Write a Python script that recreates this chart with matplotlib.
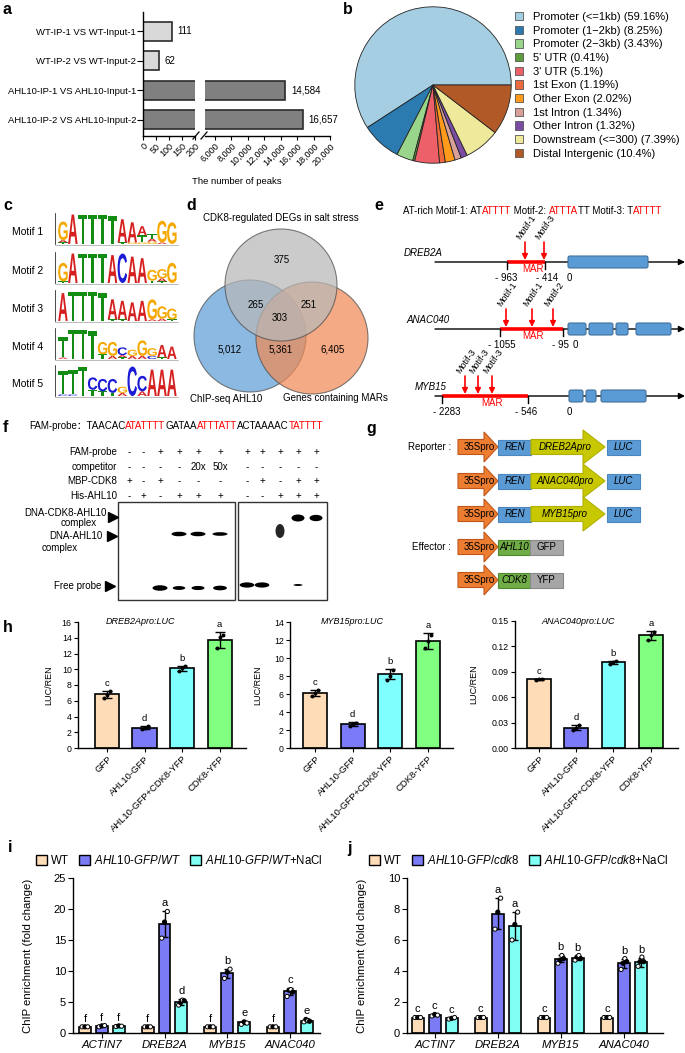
import matplotlib
matplotlib.use('Agg')
import matplotlib.pyplot as plt
import numpy as np
from matplotlib.patches import Rectangle, Circle, Polygon, FancyBboxPatch, Ellipse, PathPatch, Patch
from matplotlib.textpath import TextPath
from matplotlib.font_manager import FontProperties
from matplotlib.transforms import Affine2D
from matplotlib.offsetbox import TextArea, HPacker, AnnotationBbox

plt.rcParams['font.family'] = ['Liberation Sans', 'DejaVu Sans']
plt.rcParams['mathtext.fontset'] = 'custom'
plt.rcParams['mathtext.rm'] = 'Liberation Sans'
plt.rcParams['mathtext.it'] = 'Liberation Sans:italic'
plt.rcParams['axes.linewidth'] = 1.0

# ---------------- data ----------------
# a: peak numbers
peak_labels = ['WT-IP-1 VS WT-Input-1', 'WT-IP-2 VS WT-Input-2',
               'AHL10-IP-1 VS AHL10-Input-1', 'AHL10-IP-2 VS AHL10-Input-2']
peak_counts = [111, 62, 14584, 16657]
peak_colors = ['#d9d9d9', '#d9d9d9', '#808080', '#808080']

# b: peak annotation
anno_labels = ['Promoter (<=1kb)', 'Promoter (1\u22122kb)', 'Promoter (2\u22123kb)', "5' UTR", "3' UTR",
               '1st Exon', 'Other Exon', '1st Intron', 'Other Intron', 'Downstream (<=300)',
               'Distal Intergenic']
anno_pct = [59.16, 8.25, 3.43, 0.41, 5.1, 1.19, 2.02, 1.34, 1.32, 7.39, 10.4]
anno_colors = ['#a6cee3', '#2b7bb0', '#99d58a', '#5c9e3b', '#ee6069', '#ee6a3c',
               '#ff9a1a', '#d8a098', '#7b4ca3', '#efea9b', '#b15a28']

# c: motif logos (bits per letter, per column)
motif_names = ['Motif 1', 'Motif 2', 'Motif 3', 'Motif 4', 'Motif 5']
motif1 = [{'G': 1.2, 'A': 0.15, 'T': 0.1}, {'A': 1.9}, {'T': 1.9}, {'T': 1.9}, {'T': 1.9},
          {'T': 1.8}, {'A': 1.5, 'T': 0.1}, {'A': 1.3, 'G': 0.1}, {'A': 0.6, 'T': 0.45, 'G': 0.1},
          {'T': 0.3, 'A': 0.2, 'G': 0.15}, {'G': 1.4, 'A': 0.1}, {'G': 1.4}]
motif2 = [{'G': 1.2, 'T': 0.1}, {'A': 1.9}, {'T': 1.9}, {'T': 1.9}, {'T': 1.9}, {'A': 1.8},
          {'C': 1.9}, {'A': 1.7}, {'A': 1.6}, {'G': 0.7, 'T': 0.15}, {'G': 0.6, 'A': 0.2, 'T': 0.1},
          {'G': 1.3}]
motif3 = [{'A': 1.8}, {'T': 1.9}, {'T': 1.9}, {'T': 1.9}, {'T': 1.8}, {'A': 1.3, 'T': 0.1},
          {'A': 1.2, 'T': 0.1}, {'A': 1.2}, {'A': 1.3}, {'G': 1.3, 'A': 0.1}, {'G': 0.8, 'A': 0.15},
          {'G': 0.7, 'T': 0.1}]
motif4 = [{'T': 1.3, 'A': 0.1}, {'T': 1.9}, {'T': 1.9}, {'T': 1.8}, {'G': 0.8, 'T': 0.3},
          {'G': 0.9, 'A': 0.2}, {'C': 0.5, 'A': 0.15, 'T': 0.1}, {'G': 0.4, 'A': 0.2},
          {'G': 1.0, 'A': 0.2}, {'G': 0.5, 'C': 0.2}, {'A': 0.8, 'T': 0.1}, {'A': 0.8}]
motif5 = [{'T': 1.5, 'C': 0.1}, {'T': 1.6, 'C': 0.1}, {'T': 1.9}, {'C': 0.8, 'T': 0.4},
          {'C': 0.8, 'T': 0.3}, {'C': 0.9, 'T': 0.2}, {'G': 0.4, 'A': 0.2}, {'C': 1.9},
          {'C': 1.0, 'A': 0.3}, {'A': 1.7}, {'A': 1.7}, {'A': 1.7}]
motifs = [motif1, motif2, motif3, motif4, motif5]
base_colors = {'A': '#d62020', 'T': '#128c12', 'C': '#1b1bd6', 'G': '#f5a800'}

# d: venn
venn_titles = ['CDK8-regulated DEGs in salt stress', 'ChIP-seq AHL10', 'Genes containing MARs']
# order: gray only, blue only, orange only, gray&blue, gray&orange, blue&orange, all three
venn_counts = [375, 5012, 6405, 265, 251, 5361, 303]

# e: promoters
gene_names = ['DREB2A', 'ANAC040', 'MYB15']
mar_bounds = [('- 963', '- 414'), ('- 1055', '- 95'), ('- 2283', '- 546')]
motif_hits = [['Motif-1', 'Motif-3'], ['Motif-1', 'Motif-1', 'Motif-2'],
              ['Motif-3', 'Motif-3', 'Motif-3']]

# f: EMSA
gel_rows = ['FAM-probe', 'competitor', 'MBP-CDK8', 'His-AHL10']
gel_fam = ['-', '-', '+', '+', '+', '+', '+', '+', '+', '+', '+']
gel_comp = ['-', '-', '-', '-', '20x', '50x', '-', '-', '-', '-', '-']
gel_mbp = ['+', '-', '+', '-', '-', '-', '-', '+', '-', '+', '+']
gel_his = ['-', '+', '-', '+', '+', '+', '-', '-', '+', '+', '+']
free_probe_int = [0, 0, 1.0, 0.7, 0.75, 0.85, 0.95, 0.95, 0, 0.35, 0]
ahl_complex_int = [0, 0, 0, 1.0, 1.0, 0.8, 0, 0, 0.9, 0, 0]
cdk_complex_int = [0, 0, 0, 0, 0, 0, 0, 0, 0, 1.0, 0.9]

# g: constructs
reporter_pro = ['DREB2Apro', 'ANAC040pro', 'MYB15pro']
effectors = [('AHL10', 'GFP'), ('CDK8', 'YFP')]

# h: LUC/REN
h_conds = ['GFP', 'AHL10-GFP', 'AHL10-GFP+CDK8-YFP', 'CDK8-YFP']
h_colors = ['#ffdcb8', '#7b7bf7', '#80ffff', '#80ff80']
h_letters = ['c', 'd', 'b', 'a']
dreb_mean = [6.8, 2.6, 10.1, 13.7]
dreb_err = [0.5, 0.25, 0.35, 1.0]
dreb_pts = [[6.4, 6.7, 7.2], [2.4, 2.6, 2.8], [9.8, 10.1, 10.4], [12.7, 14.1, 14.3]]
myb_mean = [6.1, 2.7, 8.2, 11.9]
myb_err = [0.35, 0.2, 0.55, 0.9]
myb_pts = [[5.8, 6.1, 6.4], [2.5, 2.7, 2.8], [7.6, 8.0, 8.7], [11.1, 11.9, 12.6]]
anac_mean = [0.081, 0.024, 0.101, 0.133]
anac_err = [0.0008, 0.003, 0.002, 0.005]
anac_pts = [[0.080, 0.081, 0.081], [0.021, 0.024, 0.027], [0.099, 0.101, 0.103],
            [0.128, 0.134, 0.137]]

# i / j: ChIP enrichment
chip_genes = ['ACTIN7', 'DREB2A', 'MYB15', 'ANAC040']
chip_colors = ['#ffdcb8', '#7b7bf5', '#80fff5']
i_mean = [[1.0, 1.0, 1.0, 1.0], [1.1, 17.6, 9.6, 6.7], [1.1, 5.0, 1.7, 2.0]]
i_err = [[0.05, 0.05, 0.05, 0.05], [0.1, 2.1, 0.8, 0.6], [0.1, 0.45, 0.3, 0.3]]
i_pts = [[[1, 1, 1], [1, 1, 1], [1, 1, 1], [1, 1, 1]],
         [[1.0, 1.15, 1.2], [15.3, 17.9, 19.6], [8.8, 9.8, 10.3], [5.9, 6.9, 7.0, 6.6]],
         [[1.05, 1.15, 1.1], [4.5, 4.9, 5.3, 5.2], [1.4, 1.8, 1.6], [1.8, 2.2, 2.0, 1.9]]]
i_letters = [['f', 'f', 'f', 'f'], ['f', 'a', 'b', 'c'], ['f', 'd', 'e', 'e']]
j_mean = [[1.0, 1.0, 1.0, 1.0], [1.15, 7.7, 4.8, 4.5], [0.95, 6.9, 4.85, 4.55]]
j_err = [[0.05, 0.05, 0.05, 0.05], [0.07, 1.0, 0.25, 0.3], [0.05, 0.9, 0.15, 0.3]]
j_pts = [[[1, 1, 1], [1, 1, 1], [1, 1, 1], [1, 1, 1]],
         [[1.1, 1.2, 1.15], [6.7, 7.8, 8.7], [4.5, 4.7, 5.0, 4.8], [4.1, 4.5, 4.8, 4.6]],
         [[0.9, 0.95, 1.0], [6.0, 7.0, 7.8], [4.7, 4.9, 5.0, 4.8], [4.3, 4.6, 4.9, 4.6]]]
j_letters = [['c', 'c', 'c', 'c'], ['c', 'a', 'b', 'b'], ['c', 'a', 'b', 'b']]

# ---------------- figure ----------------
W, H = 685, 1053
fig = plt.figure(figsize=(W / 100, H / 100), dpi=100)

# pixel canvas for schematic drawings and free text
cv = fig.add_axes([0, 0, 1, 1])
cv.set_xlim(0, W)
cv.set_ylim(H, 0)
cv.axis('off')


def px_axes(x0, y0, x1, y1):
    return fig.add_axes([x0 / W, 1 - y1 / H, (x1 - x0) / W, (y1 - y0) / H])


def rich_text(x, y, parts, fontsize, family=None):
    fam = family or plt.rcParams['font.family']
    areas = [TextArea(s, textprops=dict(color=c, fontsize=fontsize, family=fam)) for s, c in parts]
    box = HPacker(children=areas, align='baseline', pad=0, sep=0)
    ab = AnnotationBbox(box, (x, y), xycoords='data', frameon=False,
                        box_alignment=(0, 0.5), pad=0)
    cv.add_artist(ab)


for lab, (lx, ly) in zip('abcdefghij', [(3, 9), (343, 9), (3, 205), (186, 205), (374, 205),
                                        (3, 427), (366, 428), (3, 628), (8, 848), (347, 848)]):
    cv.text(lx, ly, lab, fontsize=11.5, fontweight='bold', va='center', ha='left')

# ---------------- a ----------------
axL = px_axes(143, 12, 195, 136)
axR = px_axes(205, 12, 330, 136)
ypos = np.arange(len(peak_counts))
for ax in (axL, axR):
    ax.barh(ypos, peak_counts, height=0.64, color=peak_colors, edgecolor='#2b2b2b', linewidth=1.2)
    ax.set_ylim(3.55, -0.65)
    ax.spines[['top', 'right']].set_visible(False)
    ax.tick_params(axis='x', labelsize=6.5, length=3, pad=1)
    ax.set_facecolor('none')
axL.set_xlim(0, 200)
axL.set_xticks([0, 50, 100, 150, 200])
axR.set_xlim(4800, 20000)
axR.set_xticks(range(6000, 20001, 2000))
axR.set_xticklabels([f'{v:,}' for v in range(6000, 20001, 2000)])
axR.spines['left'].set_visible(False)
axR.tick_params(axis='y', left=False, labelleft=False)
axL.set_yticks(ypos)
axL.set_yticklabels(peak_labels, fontsize=6.8)
axL.tick_params(axis='y', length=4, pad=1)
for ax in (axL, axR):
    for t in ax.get_xticklabels():
        t.set_rotation(45)
        t.set_ha('right')
        t.set_va('top')
        t.set_rotation_mode('anchor')
for yi, v in zip(ypos, peak_counts):
    tgt = axL if v <= 200 else axR
    tgt.annotate(f'{v:,}', (v, yi), xytext=(4, 0), textcoords='offset points',
                 va='center', ha='left', fontsize=7, annotation_clip=False)
cv.plot([193, 199], [139, 132], color='black', lw=0.9)
cv.plot([201, 207], [139, 132], color='black', lw=0.9)
cv.text(237, 181, 'The number of peaks', ha='center', va='center', fontsize=6.8)

# ---------------- b ----------------
axb = px_axes(354, 6, 512, 164)
axb.pie(anno_pct, colors=anno_colors, startangle=0, counterclock=True,
        wedgeprops=dict(edgecolor='#222222', linewidth=0.6))
axb.set_xlim(-1.01, 1.01)
axb.set_ylim(-1.01, 1.01)
handles = [Patch(facecolor=c, edgecolor='#555555', linewidth=0.6) for c in anno_colors]
labels = [f'{l} ({p:g}%)' for l, p in zip(anno_labels, anno_pct)]
fig.legend(handles, labels, loc='upper left', bbox_to_anchor=(515 / W, 1 - 12 / H),
           frameon=False, fontsize=8, handlelength=0.75, handleheight=0.75,
           handletextpad=0.9, labelspacing=0.33, borderaxespad=0, borderpad=0)

# ---------------- c ----------------
logo_fp = FontProperties(family='Liberation Sans', weight='bold')
logo_x0, col_w, bit_px = 58, 9.9, 15.5
logo_bottoms = [244, 283, 321, 359, 396]


def draw_letter(ch, x, ybot, w, h, color):
    tp = TextPath((0, 0), ch, size=1, prop=logo_fp)
    bb = tp.get_extents()
    tr = Affine2D().translate(-bb.x0, -bb.y0).scale(w / bb.width, -h / bb.height).translate(x, ybot)
    cv.add_patch(PathPatch(tr.transform_path(tp), facecolor=color, edgecolor='none', lw=0))


for name, cols, bot in zip(motif_names, motifs, logo_bottoms):
    cv.text(43, bot - 12, name, ha='right', va='center', fontsize=7.5)
    cv.plot([55.5, 55.5], [bot - 31, bot], color='black', lw=0.5)
    cv.plot([55.5, 178], [bot + 0.5, bot + 0.5], color='#888888', lw=0.4)
    for ci, col in enumerate(cols):
        y = bot
        for letter, bits in sorted(col.items(), key=lambda kv: kv[1]):
            h = bits * bit_px
            draw_letter(letter, logo_x0 + ci * col_w + 0.2, y, col_w - 0.4, h, base_colors[letter])
            y -= h

# ---------------- d ----------------
venn_circles = [((281, 285), '#b8b8b8'), ((250, 336), '#5f9fd6'), ((312, 338), '#f08a55')]
for (cx, cy), col in [venn_circles[1], venn_circles[2], venn_circles[0]]:
    cv.add_patch(Circle((cx, cy), 56, facecolor=col, alpha=0.72, edgecolor='#4d4d4d', lw=0.8))
venn_pos = [(282, 260), (230, 350), (333, 350), (256, 305), (309, 305), (281, 350), (280, 318)]
for (vx, vy), n in zip(venn_pos, venn_counts):
    cv.text(vx, vy, f'{n:,}', ha='center', va='center', fontsize=7)
cv.text(281, 218, venn_titles[0], ha='center', va='center', fontsize=7)
cv.text(226, 399, venn_titles[1], ha='center', va='center', fontsize=7)
cv.text(335, 398, venn_titles[2], ha='center', va='center', fontsize=7)

# ---------------- e ----------------
rich_text(403, 211, [('AT-rich Motif-1: AT', 'black'), ('ATTTT', 'red'), (' Motif-2: ', 'black'),
                     ('ATTTA', 'red'), ('TT Motif-3: T', 'black'), ('ATTTT', 'red')], 7)
gene_y = [262, 329, 396]
gene_label_x = [423, 428, 431]
mar_x = [(507, 545), (500, 563), (442, 528)]
mar_text_x = [533, 533, 492]
bound_x = [(506, 547, 569), (502, 560, 575), (447, 526, 569)]
exon_x = [[(568, 648)], [(568, 586), (589, 613), (616, 628), (636, 671)],
          [(569, 583), (586, 596), (601, 646)]]
motif_x = [[525, 544], [506, 532, 553], [465, 478, 492]]
for g in range(3):
    y = gene_y[g]
    cv.text(gene_label_x[g], y - 9, gene_names[g], ha='center', va='center', fontsize=7, style='italic')
    cv.annotate('', xy=(685, y), xytext=(435, y),
                arrowprops=dict(arrowstyle='-|>', color='black', lw=1, mutation_scale=9,
                                shrinkA=0, shrinkB=0))
    m0, m1 = mar_x[g]
    cv.plot([m0, m1], [y, y], color='red', lw=2.6, solid_capstyle='butt', zorder=3)
    for mx in (m0, m1):
        cv.plot([mx, mx], [y, y + 7], color='black', lw=1, zorder=3)
    cv.text(mar_text_x[g], y + 7, 'MAR', color='red', ha='center', va='center', fontsize=7)
    for txt, bx in zip(list(mar_bounds[g]) + ['0'], bound_x[g]):
        cv.text(bx, y + 16, txt, ha='center', va='center', fontsize=7)
    for e0, e1 in exon_x[g]:
        cv.add_patch(FancyBboxPatch((e0, y - 6), e1 - e0, 12, boxstyle='round,pad=0,rounding_size=2',
                                    facecolor='#5b9bd5', edgecolor='#41719c', lw=0.8, zorder=4))
    for mx, mname in zip(motif_x[g], motif_hits[g]):
        cv.annotate('', xy=(mx, y - 2), xytext=(mx, y - 20),
                    arrowprops=dict(arrowstyle='-|>', color='red', lw=1.2, mutation_scale=8,
                                    shrinkA=0, shrinkB=0), zorder=5)
        cv.text(mx - 3, y - 21, mname, rotation=55, rotation_mode='anchor', ha='left', va='bottom',
                fontsize=6.5)

# ---------------- f ----------------
rich_text(29, 426, [('FAM-probe\uff1aTAACAC', 'black'), ('ATATTTT', 'red'), ('GATAA', 'black'),
                    ('ATTTATT', 'red'), ('ACTAAAAC', 'black'), ('TATTTT', 'red')], 7,
          family=['Liberation Sans', 'Noto Sans CJK SC'])
lane_x = [129, 143, 160, 179, 198, 220, 247, 262, 280, 298, 316]
row_y = [452, 467, 481, 496]
for rname, ry, vals in zip(gel_rows, row_y, [gel_fam, gel_comp, gel_mbp, gel_his]):
    cv.text(117, ry, rname, ha='right', va='center', fontsize=7)
    for lx, v in zip(lane_x, vals):
        cv.text(lx, ry, v, ha='center', va='center', fontsize=7)
cv.add_patch(Rectangle((118, 502), 117, 98, facecolor='white', edgecolor='#333333', lw=1))
cv.add_patch(Rectangle((238, 502), 89, 98, facecolor='white', edgecolor='#333333', lw=1))
for li, (lx, a) in enumerate(zip(lane_x, free_probe_int)):
    if a > 0:
        fy = 588 if li < 6 else 585
        cv.add_patch(Ellipse((lx, fy), 15 * a ** 0.5, 5.5 * a, facecolor='black', edgecolor='none'))
for li, (lx, a) in enumerate(zip(lane_x, ahl_complex_int)):
    if a > 0:
        if li < 6:
            cv.add_patch(Ellipse((lx, 534), 15, 4.5 * a, facecolor='black', edgecolor='none'))
        else:
            cv.add_patch(Ellipse((lx, 531), 9, 14, facecolor='black', edgecolor='none', alpha=0.85))
for lx, a in zip(lane_x, cdk_complex_int):
    if a > 0:
        cv.add_patch(Ellipse((lx, 518), 13, 7 * a, facecolor='black', edgecolor='none'))
cv.text(107, 513, 'DNA-CDK8-AHL10', ha='right', va='center', fontsize=7)
cv.text(79, 523, 'complex', ha='center', va='center', fontsize=7)
cv.text(103, 536, 'DNA-AHL10', ha='right', va='center', fontsize=7)
cv.text(60, 548, 'complex', ha='center', va='center', fontsize=7)
cv.text(101, 586, 'Free probe', ha='right', va='center', fontsize=7)
cv.plot([113, 112, 110], [517, 536, 586], marker='>', color='black', markersize=7, lw=0)

# ---------------- g ----------------


def block_arrow(x0, x1, yc, bh, hh, hl, fc, ec):
    pts = [(x0, yc - bh / 2), (x1 - hl, yc - bh / 2), (x1 - hl, yc - hh / 2), (x1, yc),
           (x1 - hl, yc + hh / 2), (x1 - hl, yc + bh / 2), (x0, yc + bh / 2)]
    cv.add_patch(Polygon(pts, closed=True, facecolor=fc, edgecolor=ec, lw=0.8))


def box(x0, x1, yc, fc, ec, txt, italic=True):
    cv.add_patch(Rectangle((x0, yc - 7.5), x1 - x0, 15, facecolor=fc, edgecolor=ec, lw=0.8))
    cv.text((x0 + x1) / 2, yc, txt, ha='center', va='center', fontsize=7,
            style='italic' if italic else 'normal')


construct_y = [447, 481, 514, 547, 580]
cv.text(430, construct_y[0], 'Reporter :', ha='center', va='center', fontsize=7)
cv.text(431, construct_y[3], 'Effector :', ha='center', va='center', fontsize=7)
for yc, pro in zip(construct_y[:3], reporter_pro):
    block_arrow(458, 498, yc, 15, 30, 14, '#ed7d31', '#c0561a')
    cv.text(479, yc, '35Spro', ha='center', va='center', fontsize=7)
    box(498, 531, yc, '#5b9bd5', '#4a86c0', 'REN')
    block_arrow(531, 605, yc, 15, 34, 22, '#c8c800', '#b0b000')
    cv.text(565, yc, pro, ha='center', va='center', fontsize=7, style='italic')
    box(607, 640, yc, '#5b9bd5', '#4a86c0', 'LUC')
for yc, (gene, tag) in zip(construct_y[3:], effectors):
    block_arrow(458, 498, yc, 15, 30, 14, '#ed7d31', '#c0561a')
    cv.text(479, yc, '35Spro', ha='center', va='center', fontsize=7)
    box(498, 530, yc, '#70ad47', '#4e8a30', gene)
    box(530, 563, yc, '#a6a6a6', '#8a8a8a', tag, italic=False)

# ---------------- h ----------------


def luc_chart(rect, xlim, title, title_x, ylab_off, means, errs, pts, ymax, ystep, fmt):
    ax = px_axes(*rect)
    x = np.arange(len(means))
    ax.bar(x, means, width=0.64, color=h_colors, edgecolor='black', linewidth=1.2, zorder=2)
    ax.errorbar(x, means, yerr=errs, fmt='none', ecolor='black', elinewidth=1, capsize=3.5,
                capthick=1, zorder=3)
    for xi, p in zip(x, pts):
        offs = np.linspace(-0.08, 0.08, len(p))
        ax.scatter(xi + offs, p, s=8, color='black', zorder=4, linewidths=0)
    for xi, m, e, l in zip(x, means, errs, h_letters):
        ax.annotate(l, (xi, m + e), xytext=(0, 2), textcoords='offset points', ha='center',
                    va='bottom', fontsize=6.8)
    ax.set_xlim(*xlim)
    ax.set_ylim(0, ymax)
    ax.set_yticks(np.arange(0, ymax + ystep / 2, ystep))
    ax.set_yticklabels([fmt.format(v) for v in np.arange(0, ymax + ystep / 2, ystep)])
    ax.set_xticks(x)
    ax.set_xticklabels(h_conds, rotation=45, ha='right', rotation_mode='anchor', fontsize=6.8)
    ax.spines[['top', 'right']].set_visible(False)
    ax.tick_params(axis='y', labelsize=6.3, length=3, pad=1.5)
    ax.tick_params(axis='x', length=3, pad=1.5)
    ax.set_ylabel('LUC/REN', fontsize=6.5)
    w = rect[2] - rect[0]
    ax.yaxis.set_label_coords(-ylab_off / w, 0.5)
    ax.text((title_x - rect[0]) / w, 1.0, title, transform=ax.transAxes, ha='center', va='center',
            fontsize=6.5, style='italic')
    ax.set_facecolor('none')
    return ax


luc_chart((78, 622, 246, 748), (-0.77, 3.7), 'DREB2Apro:LUC', 140, 25,
          dreb_mean, dreb_err, dreb_pts, 16, 2, '{:.0f}')
luc_chart((290, 622, 453, 748), (-0.66, 3.66), 'MYB15pro:LUC', 352, 28,
          myb_mean, myb_err, myb_pts, 14, 2, '{:.0f}')
luc_chart((515, 621, 678, 748), (-0.64, 3.73), 'ANAC040pro:LUC', 578, 37,
          anac_mean, anac_err, anac_pts, 0.15, 0.03, '{:.2f}')

# ---------------- i / j ----------------


def chip_chart(rect, xlim, means, errs, pts, letters, ymax, ystep, leg_labels, leg_x):
    ax = px_axes(*rect)
    g = np.arange(len(chip_genes))
    offs = [-0.27, 0, 0.27]
    for s in range(3):
        xs = g + offs[s]
        ax.bar(xs, means[s], width=0.19, color=chip_colors[s], edgecolor='black', linewidth=1.2,
               zorder=2)
        ax.errorbar(xs, means[s], yerr=errs[s], fmt='none', ecolor='black', elinewidth=1,
                    capsize=2.5, capthick=1, zorder=3)
        for xi, p in zip(xs, pts[s]):
            jit = np.linspace(-0.045, 0.045, len(p))
            fcs = ['white' if k % 2 == 0 else 'black' for k in range(len(p))]
            ax.scatter(xi + jit, p, s=9, facecolors=fcs, edgecolors='black', linewidths=0.7,
                       zorder=4)
        for xi, m, e, l in zip(xs, means[s], errs[s], letters[s]):
            ax.annotate(l, (xi, m + e), xytext=(0, 2), textcoords='offset points', ha='center',
                        va='bottom', fontsize=8)
    ax.set_xlim(*xlim)
    ax.set_ylim(0, ymax)
    ax.set_yticks(np.arange(0, ymax + 0.01, ystep))
    ax.set_xticks(g)
    ax.set_xticklabels(chip_genes, style='italic', fontsize=8.2)
    ax.spines[['top', 'right']].set_visible(False)
    ax.tick_params(axis='y', labelsize=8, length=3.5, pad=1.5)
    ax.tick_params(axis='x', length=3.5, pad=1.5)
    ax.set_ylabel('ChIP enrichment (fold change)', fontsize=8.2)
    ax.yaxis.set_label_coords(-40 / (rect[2] - rect[0]), 0.5)
    ax.set_facecolor('none')
    hds = [Patch(facecolor=c, edgecolor='black', linewidth=1.0) for c in chip_colors]
    fig.legend(hds, leg_labels, loc='center left', bbox_to_anchor=(leg_x / W, 1 - 860 / H),
               ncol=3, frameon=False, fontsize=8.3, handlelength=0.95, handleheight=0.95,
               handletextpad=0.35, columnspacing=0.85, borderaxespad=0, borderpad=0)
    return ax


chip_chart((73, 878, 320, 1033), (-0.46, 3.48), i_mean, i_err, i_pts, i_letters, 25, 5,
           ['WT', r'$\it{AHL10}$-$\it{GFP/WT}$', r'$\it{AHL10}$-$\it{GFP/WT}$+NaCl'], 36)
chip_chart((407, 878, 663, 1033), (-0.44, 3.62), j_mean, j_err, j_pts, j_letters, 10, 2,
           ['WT', r'$\it{AHL10}$-$\it{GFP/cdk8}$', r'$\it{AHL10}$-$\it{GFP/cdk8}$+NaCl'], 369)

fig.savefig('out.png', dpi=100, facecolor='white')
